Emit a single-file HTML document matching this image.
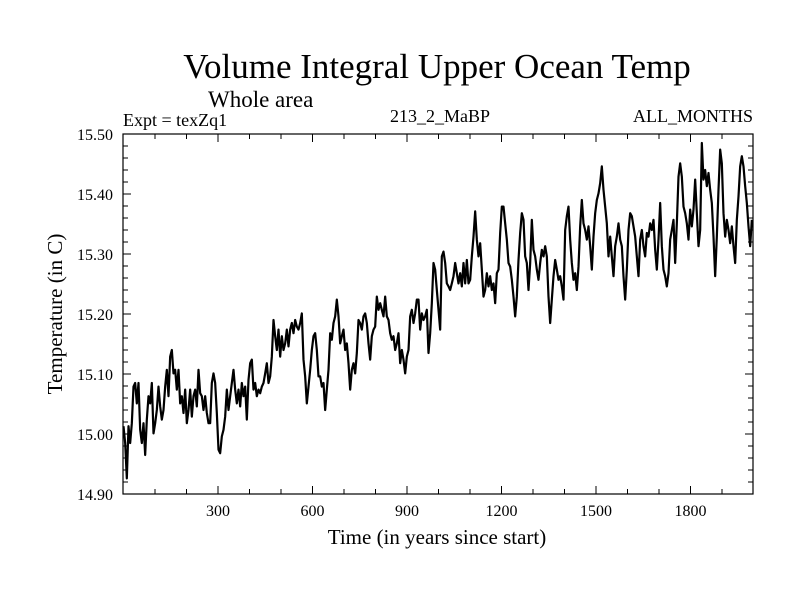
<!DOCTYPE html>
<html><head><meta charset="utf-8"><style>
html,body{margin:0;padding:0;background:#fff;}
svg{display:block;font-family:"Liberation Serif",serif;}
</style></head><body>
<svg id="chart" width="800" height="600" viewBox="0 0 800 600">
<text x="437" y="78" font-size="35" text-anchor="middle">Volume Integral Upper Ocean Temp</text>
<text x="208" y="107" font-size="23">Whole area</text>
<text x="123" y="126" font-size="18">Expt = texZq1</text>
<text x="440" y="122" font-size="18" text-anchor="middle">213_2_MaBP</text>
<text x="753" y="122" font-size="18" text-anchor="end">ALL_MONTHS</text>
<text x="437" y="544" font-size="21" text-anchor="middle">Time (in years since start)</text>
<text x="0" y="0" font-size="21" text-anchor="middle" transform="translate(62,314) rotate(-90)">Temperature (in C)</text>
<g id="axes"></g>
<path id="series" fill="none" stroke="#000" stroke-width="2.2" stroke-linejoin="round"></path>
<rect x="123" y="134" width="630" height="360" fill="none" stroke="#000" stroke-width="1.2"></rect>
</svg>
<script>
const startYear = 0;
const yearStep = 5.291;
const xTickValues = [300, 600, 900, 1200, 1500, 1800];
const yTickValues = [14.90, 15.00, 15.10, 15.20, 15.30, 15.40, 15.50];
const yTickLabels = ["14.90","15.00","15.10","15.20","15.30","15.40","15.50"];
const temps = [15.013,14.985,14.926,15.013,14.985,15.018,15.079,15.085,15.051,15.085,15.007,14.985,15.018,14.965,15.024,15.063,15.051,15.085,15.001,15.018,15.040,15.079,15.046,15.024,15.040,15.079,15.107,15.063,15.129,15.140,15.101,15.107,15.074,15.107,15.051,15.063,15.035,15.074,15.018,15.040,15.074,15.029,15.063,15.074,15.046,15.107,15.068,15.063,15.040,15.063,15.035,15.018,15.018,15.085,15.101,15.085,15.035,14.974,14.968,14.996,15.007,15.029,15.074,15.040,15.063,15.085,15.107,15.074,15.051,15.074,15.046,15.085,15.063,15.079,15.024,15.090,15.118,15.124,15.074,15.085,15.063,15.074,15.068,15.079,15.085,15.101,15.118,15.085,15.096,15.129,15.190,15.163,15.140,15.174,15.129,15.163,15.140,15.151,15.174,15.146,15.174,15.185,15.168,15.190,15.179,15.174,15.185,15.201,15.124,15.096,15.051,15.079,15.107,15.140,15.163,15.168,15.140,15.096,15.096,15.079,15.085,15.040,15.074,15.107,15.168,15.157,15.185,15.196,15.224,15.196,15.151,15.163,15.174,15.140,15.151,15.118,15.074,15.107,15.118,15.101,15.135,15.190,15.185,15.174,15.196,15.201,15.185,15.151,15.124,15.163,15.174,15.179,15.229,15.207,15.218,15.207,15.196,15.229,15.196,15.190,15.168,15.157,15.163,15.140,15.151,15.168,15.118,15.140,15.124,15.101,15.129,15.140,15.196,15.207,15.185,15.201,15.224,15.224,15.174,15.201,15.190,15.196,15.207,15.135,15.168,15.218,15.285,15.274,15.240,15.207,15.174,
15.296,15.304,15.285,15.251,15.246,15.240,15.251,15.263,15.285,15.268,15.251,15.268,15.246,15.285,15.251,15.290,15.251,15.257,15.296,15.329,15.371,15.324,15.296,15.318,15.274,15.229,15.240,15.268,15.246,15.263,15.240,15.251,15.218,15.268,15.274,15.335,15.379,15.379,15.351,15.324,15.285,15.279,15.257,15.229,15.196,15.229,15.290,15.335,15.368,15.357,15.296,15.285,15.240,15.285,15.357,15.307,15.296,15.274,15.257,15.285,15.307,15.296,15.313,15.296,15.229,15.185,15.224,15.263,15.290,15.274,15.257,15.263,15.246,15.224,15.340,15.363,15.379,15.324,15.285,15.257,15.268,15.240,15.279,15.346,15.390,15.351,15.340,15.324,15.346,15.313,15.274,15.329,15.368,15.390,15.401,15.418,15.446,15.407,15.379,15.351,15.296,15.329,15.296,15.263,15.313,15.329,15.351,15.324,15.313,15.263,15.224,15.274,15.340,15.368,15.363,15.346,15.329,15.296,15.263,15.324,15.340,15.313,15.296,15.335,15.329,15.351,15.340,15.357,15.307,15.274,15.324,15.385,15.313,15.274,15.263,15.246,15.268,15.324,15.340,15.357,15.285,15.351,15.429,15.451,15.429,15.379,15.368,15.351,15.324,15.374,15.346,15.374,15.424,15.368,15.313,15.340,15.485,15.424,15.440,15.413,15.435,15.407,15.385,15.329,15.263,15.329,15.407,15.474,15.451,15.368,15.329,15.357,15.340,15.318,15.346,15.313,15.285,15.357,15.396,15.446,15.463,15.446,15.413,15.385,15.346,15.313,15.357];

const X0=123.5, XPY=0.315, Y0=494, YMIN=14.90, PPU=600;
const xs = y => X0 + (y - 0) * XPY;
const ys = v => Y0 - (v - YMIN) * PPU;
const NS='http://www.w3.org/2000/svg';
const axes=document.getElementById('axes');
function line(x1,y1,x2,y2,name){
  const l=document.createElementNS(NS,'line');
  l.setAttribute('x1',x1);l.setAttribute('y1',y1);l.setAttribute('x2',x2);l.setAttribute('y2',y2);
  l.setAttribute('stroke','#000');l.setAttribute('stroke-width','1');
  
  
  axes.appendChild(l);
}
function txt(x,y,s,anchor,name){
  const t=document.createElementNS(NS,'text');
  t.setAttribute('x',x);t.setAttribute('y',y);t.setAttribute('font-size','16');t.setAttribute('text-anchor',anchor);
  t.textContent=s;
  
  
  axes.appendChild(t);
}
// x ticks
for(let yr=100; yr<2000; yr+=100){
  const major = xTickValues.includes(yr);
  const len = major?8:5;
  const x=xs(yr);
  line(x,494,x,494-len,'x-tick');
  line(x,134,x,134+len,'x-tick-top');
}
xTickValues.forEach(v=>txt(xs(v),516,String(v),'middle','x-tick-label'));
// y ticks
for(let i=0;i<=30;i++){
  const v=YMIN+i*0.02;
  const major = i%5===0;
  const len = major?8:5;
  const y=ys(v);
  line(123,y,123+len,y,'y-tick');
  line(753,y,753-len,y,'y-tick-right');
}
yTickValues.forEach((v,i)=>txt(113,ys(v)+6,yTickLabels[i],'end','y-tick-label'));
// series
let d='';
temps.forEach((v,i)=>{ d+=(i?'L':'M')+xs(startYear+i*yearStep).toFixed(2)+','+ys(v).toFixed(2); });
document.getElementById('series').setAttribute('d',d);
</script>
</body></html>
